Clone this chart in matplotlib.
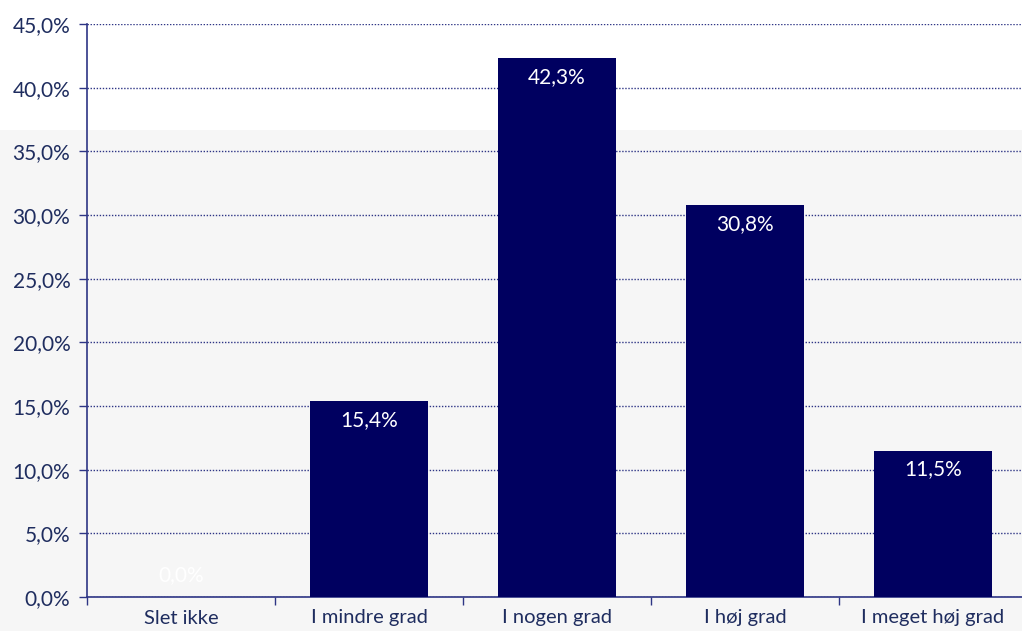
import numpy as np
import matplotlib.pyplot as plt
from matplotlib.patches import Rectangle

categories = ["Slet ikke", "I mindre grad", "I nogen grad", "I høj grad", "I meget høj grad"]
values = [0.0, 15.4, 42.3, 30.8, 11.5]
yticks = [0, 5, 10, 15, 20, 25, 30, 35, 40, 45]

bar_color = "#000060"
axis_color = "#2E3585"
text_color = "#1F2D5F"

plt.rcParams['font.family'] = ['Lato', 'DejaVu Sans']

fig = plt.figure(figsize=(10.22, 6.31), dpi=100, facecolor='white')
# light grey page band behind lower part of chart
fig.patches.append(Rectangle((0, 0), 1, (631 - 130) / 631, transform=fig.transFigure,
                             facecolor='#F6F6F6', edgecolor='none', zorder=-10))
ax = fig.add_axes([87 / 1022, 34 / 631, 940 / 1022, 573 / 631])
ax.set_facecolor('none')

x = np.arange(len(categories))
bars = ax.bar(x, values, width=0.625, color=bar_color, zorder=3)

for xi, v in zip(x, values):
    # Excel puts the zero label just above the baseline
    off = -19 if v > 3 else 22
    ax.annotate(f"{v:.1f}%".replace('.', ','), (xi, v), xytext=(0, off),
                textcoords='offset pixels', ha='center', va='center',
                color='white', fontsize=15, zorder=4)

ax.set_ylim(0, 45)
ax.set_xlim(-0.5, len(categories) - 0.5)
ax.set_yticks(yticks)
ax.set_yticklabels([f"{t:.1f}%".replace('.', ',') for t in yticks])
ax.yaxis.grid(True, linestyle=(0, (1, 1.2)), color=axis_color, linewidth=1.0, zorder=1)

ax.set_xticks(x)
ax.set_xticklabels(categories)
ax.set_xticks(np.arange(len(categories) + 1) - 0.5, minor=True)
ax.tick_params(axis='x', which='major', length=0, pad=9, labelsize=14.5, labelcolor=text_color)
ax.tick_params(axis='x', which='minor', length=6, color=axis_color, width=1)
ax.tick_params(axis='y', length=6, color=axis_color, width=1, labelsize=15,
               labelcolor=text_color, pad=6)

for side in ['top', 'right']:
    ax.spines[side].set_visible(False)
for side in ['left', 'bottom']:
    ax.spines[side].set_color(axis_color)
    ax.spines[side].set_linewidth(1.2)

fig.savefig('out.png', dpi=100)
